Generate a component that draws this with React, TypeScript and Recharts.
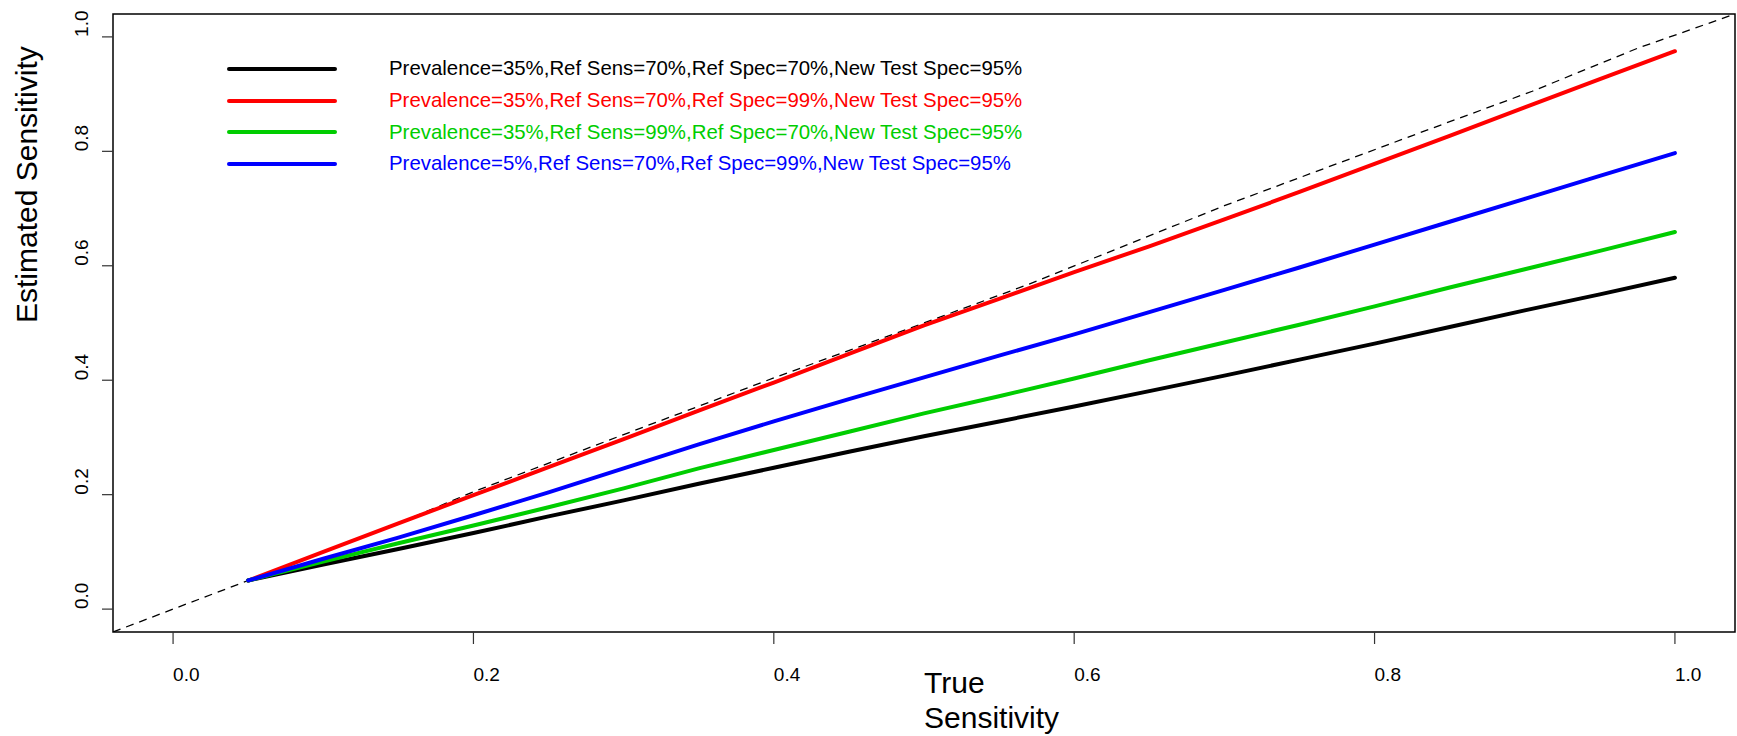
import React from 'react';
import { LineChart, Line, XAxis, YAxis, ReferenceArea } from 'recharts';

// true sensitivity grid (x) shared by the four simulated curves
const trueSens = [0.05, 0.1, 0.15, 0.2, 0.25, 0.3, 0.35, 0.4, 0.45, 0.5, 0.55, 0.6, 0.65, 0.7, 0.75, 0.8, 0.85, 0.9, 0.95, 1.0];

const estBlack = [0.05, 0.078, 0.105, 0.133, 0.162, 0.19, 0.219, 0.247, 0.275, 0.302, 0.328, 0.354, 0.381, 0.408, 0.436, 0.464, 0.493, 0.522, 0.55, 0.579];
const estRed = [0.05, 0.1, 0.15, 0.199, 0.248, 0.297, 0.347, 0.396, 0.446, 0.496, 0.542, 0.589, 0.634, 0.681, 0.729, 0.778, 0.827, 0.877, 0.926, 0.975];
const estGreen = [0.05, 0.083, 0.115, 0.146, 0.178, 0.211, 0.246, 0.278, 0.31, 0.342, 0.372, 0.403, 0.435, 0.466, 0.497, 0.529, 0.562, 0.594, 0.626, 0.659];
const estBlue = [0.05, 0.088, 0.125, 0.164, 0.204, 0.246, 0.288, 0.328, 0.367, 0.405, 0.443, 0.48, 0.519, 0.558, 0.597, 0.637, 0.677, 0.717, 0.757, 0.797];

// reference (identity) line
const diagX = [-0.04, 0.05, 0.15, 0.2, 0.3, 0.4, 0.5, 0.57, 0.7, 0.84, 0.905, 0.975, 1.04];
const diagY = [-0.04, 0.05, 0.15, 0.205, 0.305, 0.404, 0.5, 0.568, 0.705, 0.842, 0.905, 0.98, 1.04];

const legendLabels = [
    'Prevalence=35%,Ref Sens=70%,Ref Spec=70%,New Test Spec=95%',
    'Prevalence=35%,Ref Sens=70%,Ref Spec=99%,New Test Spec=95%',
    'Prevalence=35%,Ref Sens=99%,Ref Spec=70%,New Test Spec=95%',
    'Prevalence=5%,Ref Sens=70%,Ref Spec=99%,New Test Spec=95%',
];
const seriesColors = ['#000000', '#FF0000', '#00CD00', '#0000FF'];
const seriesValues = [estBlack, estRed, estGreen, estBlue];

const axisTicks = [0, 0.2, 0.4, 0.6, 0.8, 1.0];

const FONT = '"Liberation Sans", Arial, Helvetica, sans-serif';

const toPoints = (xs: number[], ys: number[]) => xs.map((x, i) => ({ x, y: ys[i] }));

const XTick = ({ x, y, payload }: any) => (
    <text x={x} y={y} dy="0.71em" textAnchor="start" fontSize={19} fontFamily={FONT} fill="#000">
        {Number(payload.value).toFixed(1)}
    </text>
);

const YTick = ({ x, y, payload }: any) => (
    <text x={x} y={y} transform={`rotate(-90, ${x}, ${y})`} textAnchor="start" fontSize={19} fontFamily={FONT} fill="#000">
        {Number(payload.value).toFixed(1)}
    </text>
);

export default function App() {
    const diagData = toPoints(diagX, diagY);

    return (
        <div style={{ position: 'absolute', left: 0, top: 0, width: 1737, height: 736, background: '#fff' }}>
            <LineChart width={1737} height={736} margin={{ top: 14, right: 2, bottom: 44, left: 13 }}>
                <XAxis
                    type="number"
                    dataKey="x"
                    domain={[-0.04, 1.04]}
                    ticks={axisTicks}
                    allowDataOverflow
                    axisLine={false}
                    tickLine={{ stroke: '#333', strokeWidth: 1.2 }}
                    tickSize={12}
                    tickMargin={24}
                    height={60}
                    tick={<XTick />}
                    label={{
                        content: () => (
                            <text x={924} y={693} fontSize={30} fontFamily={FONT} fill="#000" textAnchor="start">
                                <tspan x={924} y={693}>True</tspan>
                                <tspan x={924} y={728}>Sensitivity</tspan>
                            </text>
                        ),
                    }}
                />
                <YAxis
                    type="number"
                    dataKey="y"
                    domain={[-0.04, 1.04]}
                    ticks={axisTicks}
                    allowDataOverflow
                    axisLine={false}
                    tickLine={{ stroke: '#333', strokeWidth: 1.2 }}
                    tickSize={11}
                    tickMargin={14}
                    width={100}
                    tick={<YTick />}
                    label={{
                        content: () => (
                            <text transform="translate(37, 323) rotate(-90)" fontSize={30} fontFamily={FONT} fill="#000" textAnchor="start">
                                Estimated Sensitivity
                            </text>
                        ),
                    }}
                />
                {/* plot frame */}
                <ReferenceArea x1={-0.04} x2={1.04} y1={-0.04} y2={1.04} fill="none" stroke="#000" strokeWidth={1.5} ifOverflow="visible" />

                <Line
                    data={diagData}
                    dataKey="y"
                    type="linear"
                    stroke="#000"
                    strokeWidth={1.3}
                    strokeDasharray="8 6"
                    dot={false}
                    isAnimationActive={false}
                />
                {seriesValues.map((vals, i) => (
                    <Line
                        key={legendLabels[i]}
                        data={toPoints(trueSens, vals)}
                        dataKey="y"
                        type="linear"
                        stroke={seriesColors[i]}
                        strokeWidth={4}
                        strokeLinecap="round"
                        strokeLinejoin="round"
                        dot={false}
                        isAnimationActive={false}
                    />
                ))}
            </LineChart>

            {/* Legend */}
            <div style={{ position: 'absolute', left: 227, top: 53, fontFamily: FONT }}>
                {legendLabels.map((label, i) => (
                    <div key={label} style={{ display: 'flex', alignItems: 'center', height: 31.7 }}>
                        <div style={{ width: 110, height: 4, borderRadius: 2, backgroundColor: seriesColors[i] }}></div>
                        <span style={{ marginLeft: 52, fontSize: 20.4, color: seriesColors[i], whiteSpace: 'nowrap' }}>{label}</span>
                    </div>
                ))}
            </div>
        </div>
    );
}
